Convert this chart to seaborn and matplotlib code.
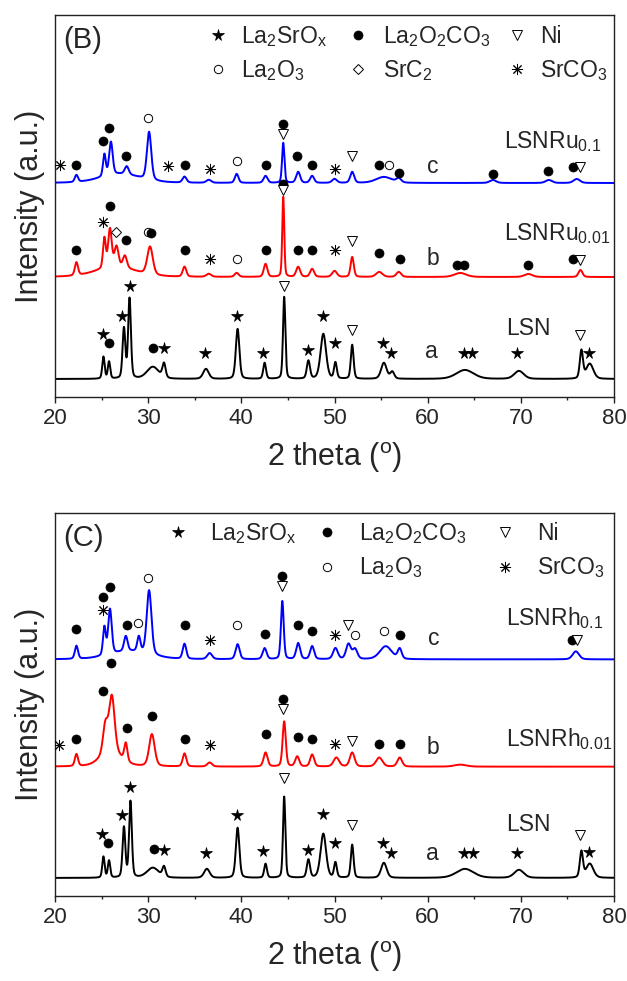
import numpy as np
import pandas as pd
import matplotlib
matplotlib.use("Agg")
import matplotlib.pyplot as plt
import seaborn as sns
from matplotlib.ticker import MultipleLocator

# ---------------- data ----------------
# Each pattern: baseline level, peak positions (2theta), peak heights above baseline, peak FWHM
b_lsn_base = 18
b_lsn_pos = [25.2, 25.8, 27.4, 28.0, 30.5, 31.7, 36.2, 39.6, 42.5, 44.6, 47.2, 48.8, 50.1, 51.9, 55.3, 56.2, 64.0, 69.8, 76.5, 77.4]
b_lsn_hgt = [22, 17, 50, 80, 12, 14, 10, 50, 16, 82, 18, 45, 16, 34, 16, 7, 9, 8, 28, 15]
b_lsn_fw = [0.3, 0.3, 0.35, 0.35, 1.5, 0.4, 0.7, 0.45, 0.35, 0.3, 0.4, 0.7, 0.35, 0.35, 0.7, 0.5, 2.2, 1.2, 0.4, 0.9]

b_ru001_base = 120
b_ru001_pos = [22.3, 25.3, 25.9, 26.6, 27.5, 26.5, 30.2, 33.9, 36.5, 39.5, 42.6, 44.5, 46.1, 47.6, 50.0, 51.9, 54.8, 56.9, 63.5, 70.8, 76.4]
b_ru001_hgt = [13, 30, 38, 20, 12, 10, 28, 10, 3, 4, 13, 80, 10, 8, 6, 20, 5, 5, 4, 3, 7]
b_ru001_fw = [0.4, 0.35, 0.45, 0.5, 0.5, 5.0, 0.7, 0.45, 0.6, 0.5, 0.45, 0.25, 0.5, 0.5, 0.6, 0.4, 0.8, 0.6, 1.5, 1.0, 0.5]

b_ru01_base = 214
b_ru01_pos = [22.3, 25.3, 26.0, 27.7, 27.0, 30.1, 33.9, 36.5, 39.5, 42.6, 44.5, 46.1, 47.6, 50.0, 51.9, 55.3, 56.9, 67.0, 73.0, 76.0]
b_ru01_hgt = [7, 22, 33, 8, 9, 48, 6, 3, 9, 7, 40, 11, 7, 4, 11, 6, 4, 3, 3, 4]
b_ru01_fw = [0.4, 0.35, 0.45, 0.5, 5.0, 0.55, 0.5, 0.6, 0.45, 0.5, 0.3, 0.5, 0.5, 0.6, 0.5, 2.0, 0.6, 0.8, 0.8, 0.8]

c_lsn_base = 18
c_lsn_pos = [25.2, 25.8, 27.4, 28.1, 30.5, 31.7, 36.3, 39.6, 42.6, 44.6, 47.2, 48.8, 50.1, 51.9, 55.3, 64.0, 69.8, 76.5, 77.4]
c_lsn_hgt = [21, 17, 50, 76, 10, 10, 9, 50, 14, 81, 18, 44, 15, 33, 15, 9, 8, 26, 14]
c_lsn_fw = [0.3, 0.3, 0.35, 0.35, 1.5, 0.4, 0.7, 0.45, 0.35, 0.3, 0.4, 0.7, 0.35, 0.35, 0.7, 2.2, 1.2, 0.4, 0.9]

c_rh001_base = 129
c_rh001_pos = [22.3, 25.4, 26.1, 26.0, 27.6, 30.4, 33.9, 36.6, 42.6, 44.6, 46.0, 47.6, 50.2, 51.9, 54.8, 57.0, 63.5]
c_rh001_hgt = [12, 28, 55, 15, 18, 32, 13, 4, 14, 45, 10, 12, 9, 14, 9, 9, 2]
c_rh001_fw = [0.4, 0.6, 0.7, 2.5, 0.4, 0.7, 0.45, 0.6, 0.5, 0.4, 0.5, 0.5, 0.7, 0.6, 0.8, 0.6, 1.5]

c_rh01_base = 236
c_rh01_pos = [22.3, 25.3, 25.9, 27.6, 29.0, 28.0, 30.1, 33.9, 36.6, 39.6, 42.5, 44.4, 46.1, 47.6, 50.1, 51.5, 52.2, 55.5, 57.0, 75.9]
c_rh01_hgt = [13, 28, 45, 15, 15, 8, 64, 15, 6, 15, 11, 58, 16, 13, 11, 15, 10, 13, 10, 8]
c_rh01_fw = [0.4, 0.35, 0.45, 0.45, 0.4, 5.0, 0.6, 0.45, 0.6, 0.5, 0.5, 0.35, 0.5, 0.5, 0.6, 0.6, 0.6, 1.5, 0.5, 0.8]

# Phase markers: phase, 2theta, intensity
b_mark_phase = ["SrCO3", "La2O2CO3", "La2O2CO3", "La2O2CO3", "La2O2CO3", "La2O3", "SrCO3", "La2O2CO3", "SrCO3", "La2O3",
                "La2O2CO3", "Ni", "La2O2CO3", "La2O2CO3", "La2O2CO3", "SrCO3", "Ni", "La2O2CO3", "La2O3", "La2O2CO3",
                "La2O2CO3", "La2O2CO3", "La2O2CO3", "Ni",
                "La2O2CO3", "SrCO3", "La2O2CO3", "SrC2", "La2O2CO3", "La2O3", "La2O2CO3", "La2O2CO3", "SrCO3", "La2O3",
                "La2O2CO3", "La2O2CO3", "Ni", "La2O2CO3", "La2O2CO3", "SrCO3", "Ni", "La2O2CO3", "La2O2CO3", "La2O2CO3",
                "La2O2CO3", "La2O2CO3", "La2O2CO3", "Ni",
                "La2SrOx", "La2O2CO3", "La2SrOx", "La2SrOx", "La2O2CO3", "La2SrOx", "La2SrOx", "La2SrOx", "La2SrOx", "Ni",
                "La2SrOx", "La2SrOx", "La2SrOx", "Ni", "La2SrOx", "La2SrOx", "La2SrOx", "La2SrOx", "La2SrOx", "Ni", "La2SrOx"]
b_mark_x = [20.5, 22.3, 25.1, 25.8, 27.6, 30.0, 32.1, 33.9, 36.6, 39.5,
            42.6, 44.5, 44.5, 46.0, 47.6, 50.1, 51.9, 54.8, 55.8, 56.9,
            67.0, 72.9, 75.6, 76.4,
            22.3, 25.2, 25.9, 26.6, 27.6, 30.0, 30.35, 33.9, 36.6, 39.5,
            42.6, 44.5, 44.5, 46.1, 47.6, 50.1, 51.9, 54.8, 57.0, 63.2,
            63.9, 70.8, 75.6, 76.3,
            25.1, 25.8, 27.2, 28.1, 30.5, 31.7, 36.1, 39.5, 42.3, 44.6,
            47.2, 48.8, 50.1, 51.9, 55.2, 56.1, 63.9, 64.8, 69.6, 76.3, 77.3]
b_mark_y = [232, 232, 256, 269, 241, 279, 231, 232, 228, 236,
            232, 263, 273, 241, 232, 228, 241, 232, 232, 224,
            223, 226, 230, 230,
            147, 175, 191, 165, 157, 165, 164, 147, 138, 138,
            147, 213, 207, 147, 147, 147, 156, 144, 138, 132,
            132, 132, 138, 137,
            63, 54, 81, 111, 49, 49, 44, 81, 44, 111,
            47, 81, 54, 67, 54, 44, 44, 44, 44, 62, 44]

c_mark_phase = ["La2O2CO3", "SrCO3", "La2O2CO3", "La2O2CO3", "La2O2CO3", "La2O3", "La2O3", "La2O2CO3", "SrCO3", "La2O3",
                "La2O2CO3", "La2O2CO3", "Ni", "La2O2CO3", "La2O2CO3", "SrCO3", "Ni", "La2O3", "La2O3", "La2O2CO3",
                "La2O2CO3", "Ni",
                "SrCO3", "La2O2CO3", "La2O2CO3", "La2O2CO3", "La2O2CO3", "La2O2CO3", "La2O2CO3", "SrCO3", "La2O2CO3",
                "La2O2CO3", "Ni", "La2O2CO3", "La2O2CO3", "SrCO3", "Ni", "La2O2CO3", "La2O2CO3",
                "La2SrOx", "La2O2CO3", "La2SrOx", "La2SrOx", "La2O2CO3", "La2SrOx", "La2SrOx", "La2SrOx", "La2SrOx", "Ni",
                "La2SrOx", "La2SrOx", "La2SrOx", "Ni", "La2SrOx", "La2SrOx", "La2SrOx", "La2SrOx", "La2SrOx", "Ni", "La2SrOx"]
c_mark_x = [22.3, 25.2, 25.2, 25.9, 27.7, 28.9, 30.0, 33.9, 36.6, 39.5,
            42.5, 44.4, 44.4, 46.1, 47.6, 50.1, 51.5, 52.2, 55.3, 57.0,
            75.5, 76.0,
            20.4, 22.3, 25.2, 26.0, 27.7, 30.4, 33.9, 36.6, 42.6,
            44.5, 44.5, 46.1, 47.6, 50.1, 51.9, 54.8, 57.0,
            25.0, 25.7, 27.2, 28.1, 30.6, 31.7, 36.2, 39.5, 42.3, 44.6,
            47.2, 48.8, 50.1, 51.9, 55.2, 56.1, 63.9, 64.9, 69.6, 76.3, 77.3]
c_mark_y = [266, 285, 298, 308, 270, 272, 317, 270, 255, 270,
            261, 319, 309, 270, 264, 260, 270, 260, 264, 260,
            255, 255,
            151, 157, 204, 232, 168, 180, 157, 151, 162,
            196, 187, 159, 157, 152, 155, 152, 152,
            62, 53, 81, 109, 47, 46, 43, 81, 45, 118,
            46, 82, 53, 71, 53, 43, 43, 43, 43, 61, 44]

# sample labels: text, x, y (baseline)
b_labels = ["LSNRu$_{0.1}$", "LSNRu$_{0.01}$", "LSN", "c", "b", "a"]
b_label_x = [68.2, 68.2, 68.4, 59.9, 59.9, 59.7]
b_label_y = [249, 157, 62, 224, 132, 39]
c_labels = ["LSNRh$_{0.1}$", "LSNRh$_{0.01}$", "LSN", "c", "b", "a"]
c_label_x = [68.4, 68.4, 68.4, 60.0, 59.9, 59.8]
c_label_y = [270, 150, 65, 250, 142, 36]

# legend entries: phase, marker x, text x, row y (marker), text baseline y
b_leg_phase = ["La2SrOx", "La2O2CO3", "Ni", "La2O3", "SrC2", "SrCO3"]
b_leg_mx = [37.5, 52.5, 69.6, 37.5, 52.5, 69.6]
b_leg_tx = [40.0, 55.2, 72.1, 40.0, 55.2, 72.1]
b_leg_my = [362, 362, 362, 328, 328, 328]
b_leg_ty = [354, 354, 354, 320, 320, 320]
c_leg_phase = ["La2SrOx", "La2O2CO3", "Ni", "La2O3", "SrCO3"]
c_leg_mx = [33.2, 49.2, 68.3, 49.2, 68.3]
c_leg_tx = [36.6, 52.6, 71.7, 52.6, 71.7]
c_leg_my = [363, 363, 363, 328, 328]
c_leg_ty = [355, 355, 355, 321, 321]

phase_text = {"La2SrOx": "La$_2$SrO$_x$", "La2O2CO3": "La$_2$O$_2$CO$_3$", "Ni": "Ni",
              "La2O3": "La$_2$O$_3$", "SrC2": "SrC$_2$", "SrCO3": "SrCO$_3$"}
phase_style = {
    "La2SrOx": dict(marker="*", ms=8.5, mfc="black", mec="black", mew=0.5),
    "La2O2CO3": dict(marker="o", ms=6.5, mfc="black", mec="black", mew=0.5),
    "Ni": dict(marker="v", ms=7, mfc="white", mec="black", mew=0.7),
    "La2O3": dict(marker="o", ms=6, mfc="white", mec="black", mew=0.7),
    "SrC2": dict(marker="D", ms=5.5, mfc="white", mec="black", mew=0.7),
    "SrCO3": dict(marker=(8, 2, 0), ms=8, mfc="black", mec="black", mew=0.7),
}

# ---------------- styling ----------------
sns.set_style("white")
plt.rcParams["font.family"] = ["Liberation Sans", "DejaVu Sans"]
plt.rcParams["mathtext.default"] = "regular"

x = np.arange(20.0, 80.0001, 0.02)


def profile(base, pos, hgt, fw):
    y = np.full_like(x, float(base))
    eta = 0.3
    for p, h, w in zip(pos, hgt, fw):
        g = np.exp(-4 * np.log(2) * ((x - p) / w) ** 2)
        l = 1.0 / (1.0 + 4 * ((x - p) / w) ** 2)
        y += h * (eta * l + (1 - eta) * g)
    return y


fig = plt.figure(figsize=(6.27, 9.81), dpi=100)
W, H = 627.0, 981.0
axB = fig.add_axes([55 / W, 1 - 397 / H, 559 / W, 382 / H])
axC = fig.add_axes([55 / W, 1 - 896 / H, 559 / W, 383 / H])


def draw_panel(ax, traces, mph, mx, my, labels, lx, ly, lph, lmx, ltx, lmy, lty, tag):
    for name, base, pos, hgt, fw, col in traces:
        df = pd.DataFrame({"two_theta": x, "intensity": profile(base, pos, hgt, fw)})
        sns.lineplot(data=df, x="two_theta", y="intensity", color=col, lw=1.4,
                     estimator=None, sort=False, ax=ax)
    for ph, xx, yy in zip(mph, mx, my):
        ax.plot([xx], [yy], ls="none", **phase_style[ph], zorder=5)
    for t, xx, yy in zip(labels, lx, ly):
        ax.text(xx, yy, t, fontsize=16.5, ha="left", va="baseline")
    for ph, a, b, c, d in zip(lph, lmx, ltx, lmy, lty):
        ax.plot([a], [c], ls="none", **phase_style[ph])
        ax.text(b, d, phase_text[ph], fontsize=16.5, ha="left", va="baseline")
    ax.text(20.9, 357, tag, fontsize=21, ha="left", va="center")
    ax.set_xlim(20, 80)
    ax.set_ylim(0, 382)
    ax.set_yticks([])
    ax.xaxis.set_major_locator(MultipleLocator(10))
    ax.xaxis.set_minor_locator(MultipleLocator(5))
    ax.tick_params(axis="x", which="major", direction="out", length=4, width=1,
                   labelsize=16, pad=4, bottom=True, top=False, color="#222222")
    ax.tick_params(axis="x", which="minor", direction="out", length=2.5, width=1,
                   bottom=True, top=False, color="#222222")
    for s in ax.spines.values():
        s.set_color("#222222")
        s.set_linewidth(1.0)
    ax.set_xlabel("2 theta ($^{o}$)", fontsize=22, labelpad=8)
    ax.set_ylabel("Intensity (a.u.)", fontsize=22, labelpad=7)


draw_panel(axB,
           [("LSN", b_lsn_base, b_lsn_pos, b_lsn_hgt, b_lsn_fw, "black"),
            ("LSNRu0.01", b_ru001_base, b_ru001_pos, b_ru001_hgt, b_ru001_fw, "#ff0000"),
            ("LSNRu0.1", b_ru01_base, b_ru01_pos, b_ru01_hgt, b_ru01_fw, "#0000ff")],
           b_mark_phase, b_mark_x, b_mark_y, b_labels, b_label_x, b_label_y,
           b_leg_phase, b_leg_mx, b_leg_tx, b_leg_my, b_leg_ty, "(B)")
draw_panel(axC,
           [("LSN", c_lsn_base, c_lsn_pos, c_lsn_hgt, c_lsn_fw, "black"),
            ("LSNRh0.01", c_rh001_base, c_rh001_pos, c_rh001_hgt, c_rh001_fw, "#ff0000"),
            ("LSNRh0.1", c_rh01_base, c_rh01_pos, c_rh01_hgt, c_rh01_fw, "#0000ff")],
           c_mark_phase, c_mark_x, c_mark_y, c_labels, c_label_x, c_label_y,
           c_leg_phase, c_leg_mx, c_leg_tx, c_leg_my, c_leg_ty, "(C)")

fig.savefig("out.png", dpi=100)
